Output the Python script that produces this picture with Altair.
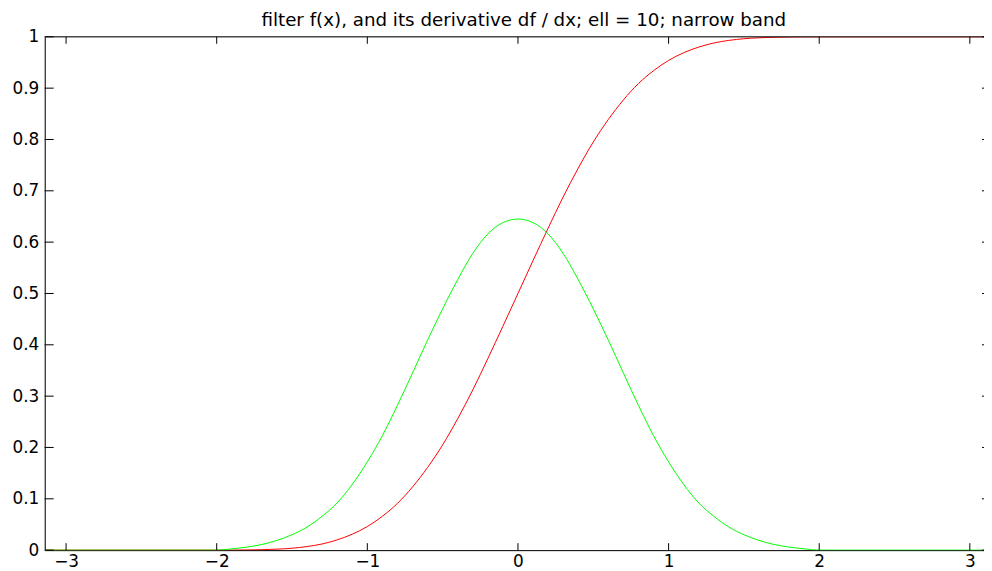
import altair as alt
import pandas as pd

# ---- data ----
x_vals = [-3.1416,
          -2.0, -1.9, -1.8, -1.7, -1.6, -1.5, -1.4, -1.3, -1.2, -1.1,
          -1.0, -0.9, -0.8, -0.7, -0.6, -0.5, -0.4, -0.3, -0.2, -0.1,
          0.0,
          0.1, 0.2, 0.3, 0.4, 0.5, 0.6, 0.7, 0.8, 0.9, 1.0,
          1.1, 1.2, 1.3, 1.4, 1.5, 1.6, 1.7, 1.8, 1.9, 2.0,
          3.1416]

# filter f(x) (red)
f_vals = [0.0,
          0.0, 0.0001, 0.0004, 0.0009, 0.0019, 0.0037, 0.007, 0.012, 0.020, 0.031,
          0.046, 0.066, 0.091, 0.123, 0.161, 0.205, 0.256, 0.312, 0.373, 0.436,
          0.500,
          0.564, 0.627, 0.688, 0.744, 0.795, 0.839, 0.877, 0.909, 0.934, 0.954,
          0.969, 0.980, 0.988, 0.993, 0.9963, 0.9981, 0.9991, 0.9996, 0.9999, 1.0,
          1.0]

# derivative df/dx (green)
df_vals = [0.0,
           0.0, 0.0025, 0.006, 0.011, 0.019, 0.030, 0.045, 0.066, 0.092, 0.128,
           0.172, 0.223, 0.282, 0.345, 0.409, 0.470, 0.527, 0.578, 0.616, 0.638,
           0.645,
           0.638, 0.616, 0.578, 0.527, 0.470, 0.409, 0.345, 0.282, 0.223, 0.172,
           0.128, 0.092, 0.066, 0.045, 0.030, 0.019, 0.011, 0.006, 0.0025, 0.0,
           0.0]

x_ticks = [-3, -2, -1, 0, 1, 2, 3]
y_ticks = [0, 0.1, 0.2, 0.3, 0.4, 0.5, 0.6, 0.7, 0.8, 0.9, 1]
x_domain = [-3.1416, 3.094]
y_domain = [0, 1]

title_text = "filter f(x), and its derivative df / dx; ell = 10; narrow band"

# ---- layout / style ----
W, H = 946, 517
FONT = "DejaVu Sans"
FS = 17
TFS = 18.4

data = pd.DataFrame({"x": x_vals, "f": f_vals, "df": df_vals})
xt = pd.DataFrame({"v": x_ticks})
yt = pd.DataFrame({"v": y_ticks})

xs = alt.Scale(domain=x_domain, nice=False, zero=False)
ys = alt.Scale(domain=y_domain, nice=False, zero=False)

x_axis = alt.Axis(values=x_ticks, format="d", title=None, grid=False,
                  ticks=False, tickSize=0, domain=True, domainColor="black",
                  domainWidth=1, labelFont=FONT, labelFontSize=FS,
                  labelColor="black", labelPadding=3, labelFlush=False)
y_axis = alt.Axis(values=y_ticks, format=".1~f", title=None, grid=False,
                  ticks=False, tickSize=0, domain=True, domainColor="black",
                  domainWidth=1, labelFont=FONT, labelFontSize=FS,
                  labelColor="black", labelPadding=6, labelFlush=False)

base = alt.Chart(data)

red = base.mark_line(color="#ff0000", strokeWidth=1, clip=True,
                     interpolate="monotone").encode(
    x=alt.X("x:Q", scale=xs, axis=x_axis),
    y=alt.Y("f:Q", scale=ys, axis=y_axis),
)
green = base.mark_line(color="#00ff00", strokeWidth=1, clip=True,
                       interpolate="monotone").encode(
    x=alt.X("x:Q", scale=xs, axis=x_axis),
    y=alt.Y("df:Q", scale=ys, axis=y_axis),
)

frame_top = alt.Chart(pd.DataFrame({"k": [0]})).mark_rule(
    color="black", strokeWidth=1).encode(
    x=alt.value(0), x2=alt.value(W), y=alt.value(0))

tick_left = alt.Chart(yt).mark_rule(color="black", strokeWidth=1).encode(
    y=alt.Y("v:Q", scale=ys, axis=y_axis), x=alt.value(0), x2=alt.value(9))
tick_right = alt.Chart(yt).mark_rule(color="black", strokeWidth=1).encode(
    y=alt.Y("v:Q", scale=ys, axis=y_axis), x=alt.value(W - 2), x2=alt.value(W))
tick_top = alt.Chart(xt).mark_rule(color="black", strokeWidth=1).encode(
    x=alt.X("v:Q", scale=xs, axis=x_axis), y=alt.value(0), y2=alt.value(7))
tick_bottom = alt.Chart(xt).mark_rule(color="black", strokeWidth=1).encode(
    x=alt.X("v:Q", scale=xs, axis=x_axis), y=alt.value(H - 7), y2=alt.value(H))

title = alt.Chart(pd.DataFrame({"t": [title_text]})).mark_text(
    font=FONT, fontSize=TFS, color="black", align="center",
    baseline="alphabetic").encode(
    text="t:N", x=alt.value(W / 2 + 9.5), y=alt.value(-11))

chart = alt.layer(
    red, green, frame_top, tick_left, tick_right, tick_top, tick_bottom,
    title,
).properties(
    width=W, height=H,
    padding={"left": 37, "top": 27, "right": 0, "bottom": 19},
    autosize=alt.AutoSizeParams(type="none"),
).configure_view(stroke=None).configure(background="white")

chart.save("out.html", embed_options={"renderer": "svg", "actions": False})
